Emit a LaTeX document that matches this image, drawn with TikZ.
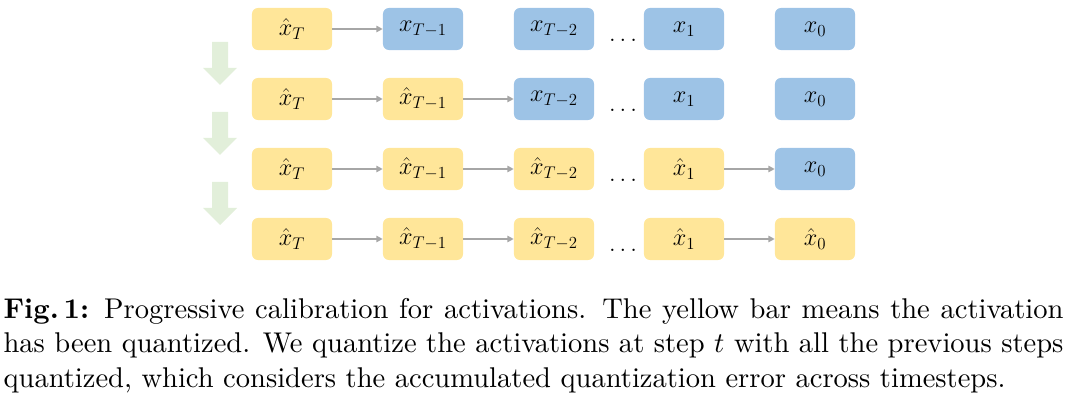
\documentclass[tikz,border=0pt]{standalone}
\usetikzlibrary{arrows.meta,positioning}
\definecolor{qyellow}{HTML}{FFE699}
\definecolor{fpblue}{HTML}{9DC3E6}
\definecolor{stepgreen}{HTML}{E2EFDA}
\definecolor{linkgray}{HTML}{A6A6A6}

\begin{document}
\begin{tikzpicture}[x=0.025cm,y=-0.025cm,>={Triangle[length=4.5pt,width=4.5pt]},font=\fontsize{18.5}{21}\selectfont]
\useasboundingbox (0,0) rectangle (1068,400);
\tikzstyle{b}=[rounded corners=0.15cm,minimum width=2cm,minimum height=1.05cm,inner sep=0pt]
\tikzstyle{q}=[b,fill=qyellow]
\tikzstyle{f}=[b,fill=fpblue]
\tikzstyle{l}=[->,draw=linkgray,line width=0.05cm]
\tikzstyle{d}=[inner sep=0pt]
% row 1: only x_T quantized
\node[q] (a1) at (292,29) {$\hat{x}_T$};
\node[f] (a2) at (423,29) {$x_{T-1}$};
\node[f] (a3) at (554,29) {$x_{T-2}$};
\node[d] (ad) at (623,40) {$\dots$};
\node[f] (a4) at (684,29) {$x_1$};
\node[f] (a5) at (815,29) {$x_0$};
\draw[l] (a1.east) -- (a2.west);
% row 2
\node[q] (b1) at (292,99) {$\hat{x}_T$};
\node[q] (b2) at (423,99) {$\hat{x}_{T-1}$};
\node[f] (b3) at (554,99) {$x_{T-2}$};
\node[d] (bd) at (623,110) {$\dots$};
\node[f] (b4) at (684,99) {$x_1$};
\node[f] (b5) at (815,99) {$x_0$};
\draw[l] (b1.east) -- (b2.west); \draw[l] (b2.east) -- (b3.west);
% row 3
\node[q] (c1) at (292,169) {$\hat{x}_T$};
\node[q] (c2) at (423,169) {$\hat{x}_{T-1}$};
\node[q] (c3) at (554,169) {$\hat{x}_{T-2}$};
\node[d] (cd) at (623,180) {$\dots$};
\node[q] (c4) at (684,169) {$\hat{x}_1$};
\node[f] (c5) at (815,169) {$x_0$};
\draw[l] (c1.east) -- (c2.west); \draw[l] (c2.east) -- (c3.west); \draw[l] (c4.east) -- (c5.west);
% row 4: all quantized
\node[q] (d1) at (292,239) {$\hat{x}_T$};
\node[q] (d2) at (423,239) {$\hat{x}_{T-1}$};
\node[q] (d3) at (554,239) {$\hat{x}_{T-2}$};
\node[d] (dd) at (623,250) {$\dots$};
\node[q] (d4) at (684,239) {$\hat{x}_1$};
\node[q] (d5) at (815,239) {$\hat{x}_0$};
\draw[l] (d1.east) -- (d2.west); \draw[l] (d2.east) -- (d3.west); \draw[l] (d4.east) -- (d5.west);
% green step arrows
\fill[stepgreen] (212,42) -- (228,42) -- (228,68) -- (237,68) -- (220,85) -- (203,68) -- (212,68) -- cycle;
\fill[stepgreen] (212,112) -- (228,112) -- (228,138) -- (237,138) -- (220,155) -- (203,138) -- (212,138) -- cycle;
\fill[stepgreen] (212,182) -- (228,182) -- (228,208) -- (237,208) -- (220,225) -- (203,208) -- (212,208) -- cycle;
% caption (10pt text, scaled up)
\node[anchor=north west,inner sep=0pt,scale=2.03,text width=13.05cm,align=justify,font=\fontsize{10}{12}\selectfont] (cap) at (3,298) {\textbf{Fig.\,1:} Progressive calibration for activations. The yellow bar means the activation has been quantized. We quantize the activations at step $t$ with all the previous steps quantized, which considers the accumulated quantization error across timesteps.};
\end{tikzpicture}
\end{document}
